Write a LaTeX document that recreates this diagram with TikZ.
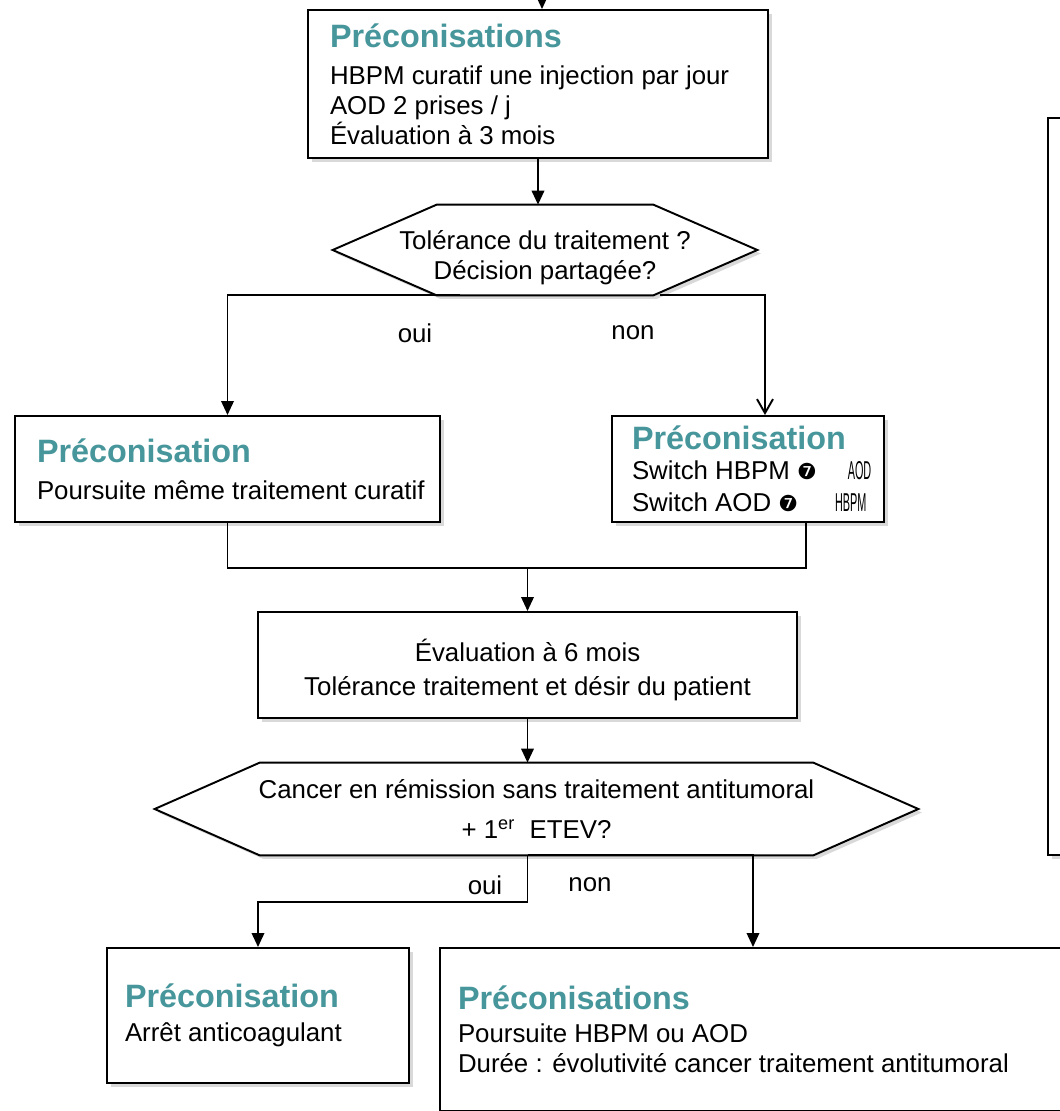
\documentclass[tikz,border=0pt]{standalone}
\usepackage{fontspec}
\setmainfont{Liberation Sans}
\newfontfamily\symfont{DejaVu Sans}
\usepackage{xcolor}
\usepackage{graphicx}
\usetikzlibrary{shapes,arrows.meta,positioning,calc,shadows,backgrounds}
\definecolor{precoteal}{RGB}{70,150,155}
\newcommand{\precohead}[1]{{\fontsize{18.4}{22}\selectfont\bfseries\color{precoteal}#1}}
\newcommand{\swto}{{\symfont\fontsize{12.5}{12.5}\selectfont\char"277C}}
\newcommand{\squish}[1]{\scalebox{0.42}[1]{#1}}
\newcommand{\hexframe}[2]{\draw[hexline] (#1.west) -- ([xshift=#2]#1.north west)
  -- ([xshift=-#2]#1.north east) -- (#1.east) -- ([xshift=-#2]#1.south east)
  -- ([xshift=#2]#1.south west) -- cycle;}
\tikzstyle{precobox}=[rectangle, draw=black, line width=1.1pt, fill=white, align=flush left,
                      drop shadow={shadow xshift=0.07cm, shadow yshift=-0.07cm, opacity=0.3},
                      font=\fontsize{14.7}{17}\selectfont, inner ysep=0pt]
\tikzstyle{evalbox} =[rectangle, draw=black, line width=1.1pt, fill=white, align=center,
                      drop shadow={shadow xshift=0.07cm, shadow yshift=-0.07cm, opacity=0.3},
                      font=\fontsize{14.7}{17}\selectfont]
\tikzstyle{hexnode} =[align=center, inner sep=0pt, font=\fontsize{14.7}{17.5}\selectfont]
\tikzstyle{hexline} =[draw=black, line width=1.1pt, fill=white,
                      drop shadow={shadow xshift=0.07cm, shadow yshift=-0.07cm, opacity=0.3}]
\tikzstyle{lbl}     =[font=\fontsize{14.7}{17}\selectfont, inner sep=0pt]
\tikzstyle{arr}     =[-{Triangle[length=0.28cm, width=0.25cm]}, line width=1.1pt]
\tikzstyle{openarr} =[-{Straight Barb[length=0.28cm, width=0.32cm]}, line width=1.1pt]
\tikzstyle{lin}     =[line width=1.1pt]

\begin{document}
\begin{tikzpicture}

  \useasboundingbox (0,0) rectangle (21.2,-22.22);
  \clip (0,0) rectangle (21.2,-22.22);

  % ── nodes ──────────────────────────────────────────────────────────────────
  \node[precobox, text width=8.32cm, inner xsep=0.44cm, minimum height=2.96cm] (pre1) at (10.76,-1.68)
    {\precohead{Préconisations}\\[4pt] HBPM curatif une injection par jour\\ AOD 2 prises / j\\ Évaluation à 3 mois};
  \node[hexnode, minimum width=8.48cm, minimum height=1.8cm] (hex1) at (10.9,-5.0)
    {\rule{0pt}{19.5pt}Tolérance du traitement ?\\ Décision partagée?};
  \node[precobox, text width=7.62cm, inner xsep=0.44cm, minimum height=2.12cm] (pre2) at (4.55,-9.38)
    {\precohead{Préconisation}\\[4pt] \mbox{Poursuite même traitement curatif}};
  \node[precobox, text width=4.64cm, inner xsep=0.4cm, minimum height=2.12cm] (pre3) at (14.96,-9.38)
    {\precohead{Préconisation}\\ \mbox{Switch HBPM \swto\hspace{0.62cm}\squish{AOD}}\\[1pt]
     \mbox{Switch AOD \swto\hspace{0.74cm}\squish{HBPM}}};
  \node[evalbox, minimum width=10.78cm, minimum height=2.12cm] (eval6) at (10.55,-13.3)
    {\rule{0pt}{18.5pt}Évaluation à 6 mois\\[2pt] Tolérance traitement et désir du patient};
  \node[hexnode, minimum width=15.26cm, minimum height=1.84cm] (hex2) at (10.73,-16.18)
    {Cancer en rémission sans traitement antitumoral\\[5pt] + 1\textsuperscript{er}\ \ ETEV?};
  \node[precobox, text width=5.32cm, inner xsep=0.36cm, minimum height=2.7cm] (pre4) at (5.16,-20.31)
    {\precohead{Préconisation}\\[2pt] Arrêt anticoagulant};
  \node[precobox, text width=12.48cm, inner xsep=0.36cm, minimum height=3.25cm] (pre5) at (15.4,-20.585)
    {\precohead{Préconisations}\\[2pt] Poursuite HBPM ou AOD\\ Durée : évolutivité cancer traitement antitumoral};
  \node[precobox, minimum width=2cm, minimum height=14.74cm] (side) at (21.96,-9.73) {};

  \begin{scope}[on background layer]
    \hexframe{hex1}{2.08cm}
    \hexframe{hex2}{2.1cm}
  \end{scope}

  % ── labels ─────────────────────────────────────────────────────────────────
  \node[lbl] (oui1) at (8.3,-6.66)  {oui};
  \node[lbl] (non1) at (12.66,-6.66) {non};
  \node[lbl] (oui2) at (9.7,-17.7)  {oui};
  \node[lbl] (non2) at (11.8,-17.7) {non};

  % ── main flow ──────────────────────────────────────────────────────────────
  \coordinate (entry) at (10.84,0.3);
  \draw[arr] (entry) -- (entry |- pre1.north);
  \draw[arr] (pre1.south) -- (pre1.south |- hex1.north);
  \draw[arr] ([xshift=-1.7cm]hex1.south) -| (pre2.north);
  \draw[openarr] ([xshift=2.3cm]hex1.south) -| ([xshift=0.34cm]pre3.north);

  % ── both branches merge into the 6 month check ─────────────────────────────
  \coordinate (join) at (10.55,-11.36);
  \draw[lin] (pre2.south) |- (join) -| ([xshift=1.16cm]pre3.south);
  \draw[arr] (join) -- (eval6.north);
  \draw[arr] (eval6.south) -- (eval6.south |- hex2.north);

  % ── final decision ─────────────────────────────────────────────────────────
  \coordinate (split) at (eval6.south |- hex2.south);
  \draw[arr] (split) -- ++(0,-0.94) -| (pre4.north);
  \draw[arr] (split) -| ([xshift=-0.34cm]pre5.north);

\end{tikzpicture}
\end{document}
